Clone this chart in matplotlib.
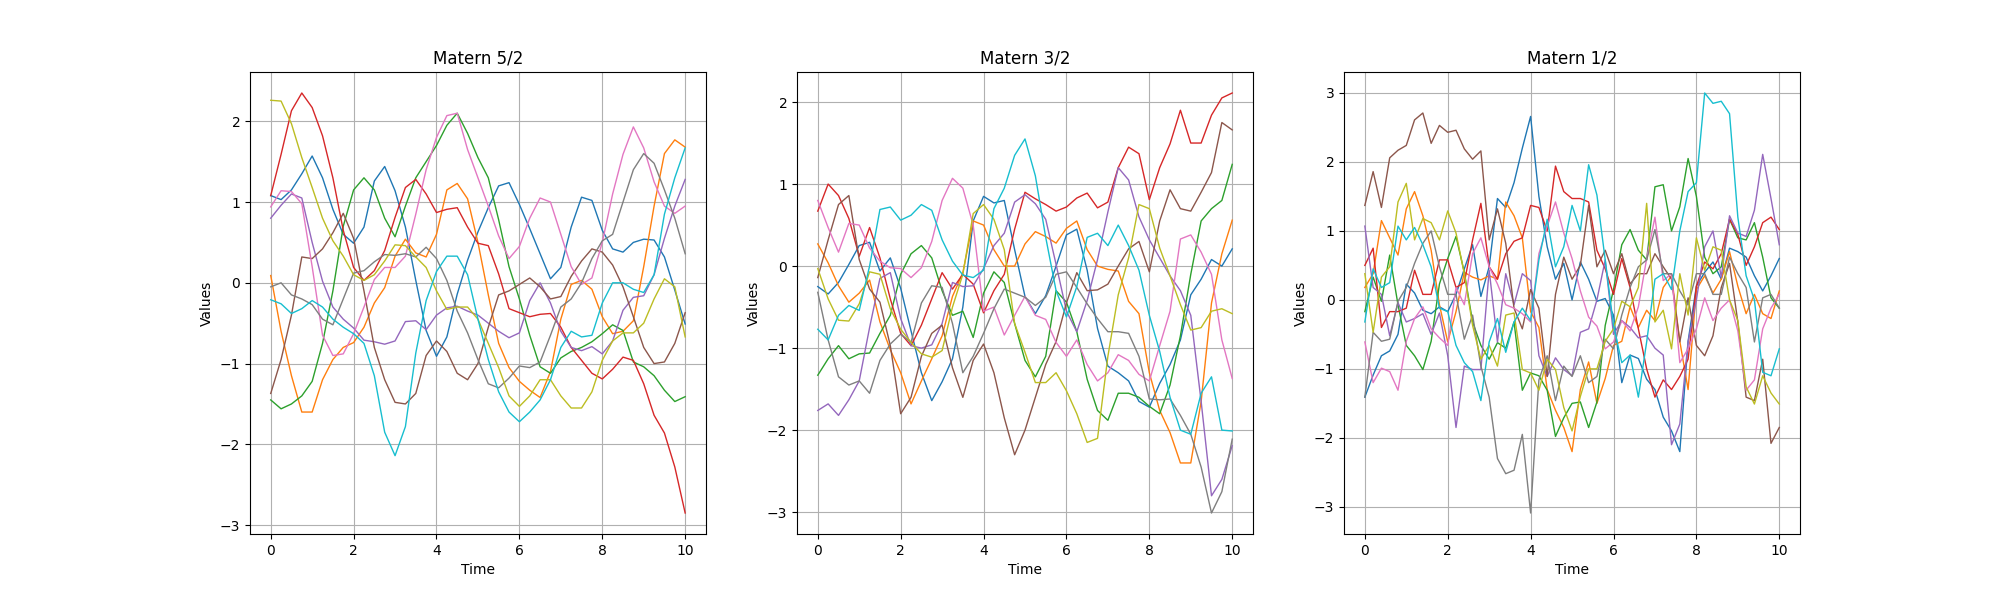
import numpy as np
import matplotlib
matplotlib.use("Agg")
import matplotlib.pyplot as plt

titles = ["Matern 5/2", "Matern 3/2", "Matern 1/2"]
colors = ["tab:blue", "tab:orange", "tab:green", "tab:red", "tab:purple",
          "tab:brown", "tab:pink", "tab:gray", "tab:olive", "tab:cyan"]

# time grids (panel 1 & 2: step 0.25, panel 3: step 0.2)
t52 = np.linspace(0, 10, 41)
t32 = np.linspace(0, 10, 41)
t12 = np.linspace(0, 10, 51)

# ---------------- Matern 5/2 ----------------
m52_blue = [1.08, 1.03, 1.15, 1.35, 1.57, 1.3, 0.91, 0.6, 0.49, 0.69, 1.26, 1.44, 1.14, 0.69, 0.03, -0.59, -0.91, -0.67, -0.14, 0.28, 0.63, 0.93, 1.2, 1.24, 0.97, 0.67, 0.36, 0.05, 0.19, 0.69, 1.06, 1.02, 0.65, 0.42, 0.38, 0.5, 0.54, 0.53, 0.32, -0.09, -0.51]
m52_orange = [0.09, -0.6, -1.15, -1.6, -1.6, -1.2, -0.95, -0.8, -0.74, -0.55, -0.25, -0.06, 0.33, 0.54, 0.37, 0.32, 0.6, 1.15, 1.23, 1.04, 0.5, -0.15, -0.75, -1.05, -1.22, -1.33, -1.42, -1.1, -0.45, -0.02, 0.03, -0.08, -0.42, -0.63, -0.6, -0.47, 0.2, 0.95, 1.6, 1.77, 1.68]
m52_green = [-1.45, -1.56, -1.5, -1.4, -1.22, -0.75, -0.1, 0.7, 1.15, 1.3, 1.15, 0.8, 0.57, 0.95, 1.3, 1.5, 1.7, 1.95, 2.1, 1.85, 1.55, 1.3, 0.78, 0.2, -0.2, -0.65, -1.04, -1.12, -0.93, -0.85, -0.8, -0.73, -0.63, -0.52, -0.59, -0.98, -1.04, -1.15, -1.33, -1.47, -1.41]
m52_red = [1.08, 1.59, 2.13, 2.35, 2.17, 1.82, 1.3, 0.65, 0.19, 0.03, 0.15, 0.4, 0.81, 1.18, 1.28, 1.1, 0.87, 0.91, 0.93, 0.69, 0.49, 0.46, 0.11, -0.32, -0.37, -0.42, -0.39, -0.38, -0.55, -0.8, -0.96, -1.12, -1.19, -1.07, -0.92, -0.96, -1.25, -1.64, -1.86, -2.28, -2.85]
m52_purple = [0.8, 0.96, 1.1, 1.05, 0.5, 0.02, -0.3, -0.45, -0.56, -0.71, -0.73, -0.76, -0.72, -0.48, -0.47, -0.58, -0.4, -0.31, -0.29, -0.35, -0.4, -0.5, -0.6, -0.68, -0.62, -0.22, 0.0, -0.25, -0.6, -0.8, -0.84, -0.79, -0.88, -0.72, -0.34, -0.18, -0.16, 0.1, 0.55, 0.95, 1.28]
m52_brown = [-1.37, -0.95, -0.4, 0.32, 0.3, 0.42, 0.62, 0.86, 0.55, -0.1, -0.8, -1.2, -1.48, -1.5, -1.37, -0.9, -0.72, -0.85, -1.12, -1.2, -1.0, -0.55, -0.15, -0.1, -0.02, 0.06, -0.05, -0.2, -0.17, 0.08, 0.27, 0.42, 0.38, 0.22, -0.05, -0.42, -0.8, -1.0, -0.98, -0.75, -0.37]
m52_pink = [0.94, 1.14, 1.13, 0.98, 0.2, -0.65, -0.9, -0.88, -0.63, -0.3, 0.04, 0.19, 0.19, 0.33, 0.85, 1.4, 1.8, 2.07, 2.1, 1.65, 1.3, 0.95, 0.58, 0.3, 0.45, 0.8, 1.05, 1.0, 0.6, 0.2, -0.02, 0.06, 0.5, 1.1, 1.59, 1.93, 1.67, 1.25, 0.95, 0.86, 0.95]
m52_gray = [-0.05, 0.0, -0.15, -0.2, -0.27, -0.45, -0.52, -0.2, 0.12, 0.15, 0.26, 0.35, 0.34, 0.36, 0.32, 0.44, 0.3, 0.03, -0.35, -0.62, -0.95, -1.25, -1.3, -1.18, -1.03, -1.05, -0.98, -0.65, -0.3, -0.2, 0.0, 0.3, 0.52, 0.6, 1.0, 1.4, 1.6, 1.48, 1.15, 0.8, 0.36]
m52_olive = [2.26, 2.25, 1.97, 1.55, 1.18, 0.8, 0.52, 0.33, 0.1, 0.03, 0.1, 0.27, 0.47, 0.46, 0.32, 0.19, -0.1, -0.33, -0.3, -0.3, -0.45, -0.75, -1.05, -1.4, -1.53, -1.4, -1.2, -1.2, -1.4, -1.55, -1.55, -1.35, -0.96, -0.72, -0.62, -0.62, -0.5, -0.2, 0.05, -0.05, -0.67]
m52_cyan = [-0.21, -0.26, -0.38, -0.32, -0.22, -0.3, -0.45, -0.55, -0.63, -0.75, -1.15, -1.85, -2.14, -1.78, -0.87, -0.22, 0.14, 0.33, 0.33, 0.1, -0.45, -0.95, -1.35, -1.6, -1.72, -1.6, -1.45, -1.2, -0.8, -0.6, -0.67, -0.65, -0.25, 0.0, 0.0, -0.08, -0.12, 0.1, 0.85, 1.3, 1.67]

# ---------------- Matern 3/2 ----------------
m32_blue = [-0.25, -0.34, -0.2, 0.02, 0.25, 0.29, -0.06, 0.1, -0.27, -0.79, -1.3, -1.64, -1.41, -1.13, -0.5, 0.55, 0.85, 0.77, 0.8, 0.2, -0.37, -0.58, -0.36, 0.0, 0.38, 0.45, -0.05, -0.76, -1.22, -1.3, -1.4, -1.65, -1.72, -1.43, -1.2, -0.9, -0.35, -0.16, 0.08, 0.0, 0.21]
m32_orange = [0.27, 0.04, -0.24, -0.44, -0.33, -0.17, -0.68, -1.02, -1.3, -1.68, -1.4, -1.13, -0.85, -0.37, -0.08, 0.55, 0.5, 0.2, 0.0, 0.0, 0.27, 0.42, 0.36, 0.28, 0.46, 0.55, 0.2, 0.0, -0.04, -0.06, -0.43, -0.58, -1.3, -1.76, -2.03, -2.4, -2.4, -1.65, -0.45, 0.15, 0.56]
m32_green = [-1.33, -1.13, -0.97, -1.13, -1.07, -1.06, -0.82, -0.6, -0.1, 0.15, 0.25, 0.1, -0.3, -0.6, -0.55, -0.87, -0.33, -0.07, -0.2, -0.7, -1.15, -1.35, -1.1, -0.3, -0.44, -0.8, -1.38, -1.76, -1.88, -1.55, -1.55, -1.6, -1.71, -1.8, -1.45, -0.85, -0.1, 0.55, 0.7, 0.8, 1.24]
m32_red = [0.67, 1.0, 0.86, 0.58, 0.12, 0.47, 0.1, -0.4, -0.82, -0.97, -0.72, -0.4, -0.08, -0.28, -0.1, -0.22, -0.57, -0.3, -0.1, 0.45, 0.9, 0.82, 0.75, 0.67, 0.72, 0.83, 0.89, 0.71, 0.78, 1.2, 1.45, 1.37, 0.81, 1.2, 1.49, 1.9, 1.5, 1.5, 1.84, 2.05, 2.11]
m32_purple = [-1.76, -1.68, -1.82, -1.63, -1.4, -0.75, -0.15, -0.08, -0.64, -0.97, -1.0, -0.96, -0.7, -0.2, -0.25, -0.24, -0.03, 0.25, 0.4, 0.78, 0.87, 0.76, 0.57, 0.02, -0.55, -0.8, -0.42, 0.08, 0.66, 1.2, 1.05, 0.6, 0.32, 0.1, -0.12, -0.3, -0.6, -1.65, -2.8, -2.6, -2.19]
m32_brown = [-0.14, 0.32, 0.75, 0.86, 0.08, -0.28, -0.44, -0.97, -1.8, -1.6, -1.1, -0.82, -0.72, -1.24, -1.6, -1.15, -0.95, -1.3, -1.85, -2.3, -2.0, -1.6, -1.2, -0.92, -0.45, -0.08, -0.3, -0.29, -0.22, 0.0, 0.21, 0.3, -0.07, 0.55, 0.93, 0.7, 0.67, 0.9, 1.14, 1.75, 1.66]
m32_pink = [0.8, 0.47, 0.17, 0.52, 0.5, 0.22, 0.06, -0.02, -0.03, -0.14, -0.02, 0.3, 0.8, 1.07, 0.95, 0.5, -0.55, -0.5, -0.84, -0.6, -0.37, -0.6, -0.65, -0.93, -1.1, -0.9, -1.2, -1.4, -1.3, -1.08, -1.15, -1.32, -1.4, -0.97, -0.55, 0.33, 0.38, 0.17, -0.1, -0.9, -1.37]
m32_gray = [-0.32, -0.9, -1.35, -1.45, -1.4, -1.55, -1.15, -0.95, -0.83, -0.93, -0.45, -0.24, -0.26, -0.7, -1.3, -1.1, -0.82, -0.52, -0.28, -0.33, -0.38, -0.48, -0.38, -0.1, -0.07, -0.26, -0.46, -0.64, -0.8, -0.8, -0.82, -1.1, -1.62, -1.63, -1.62, -1.82, -2.05, -2.45, -3.01, -2.75, -2.11]
m32_olive = [-0.03, -0.4, -0.66, -0.67, -0.46, -0.07, -0.1, -0.52, -0.77, -0.93, -1.07, -1.11, -1.03, -0.5, -0.1, 0.64, 0.75, 0.57, 0.2, -0.7, -1.05, -1.42, -1.42, -1.3, -1.52, -1.8, -2.15, -2.1, -1.1, -0.35, 0.1, 0.75, 0.7, 0.22, -0.12, -0.47, -0.78, -0.75, -0.55, -0.52, -0.58]
m32_cyan = [-0.77, -0.9, -0.6, -0.48, -0.54, 0.0, 0.69, 0.72, 0.56, 0.62, 0.75, 0.68, 0.32, 0.06, -0.11, -0.14, -0.05, 0.7, 0.95, 1.35, 1.55, 1.1, 0.35, -0.3, -0.62, -0.25, 0.35, 0.4, 0.25, 0.5, 0.25, -0.05, -0.6, -1.04, -1.6, -2.0, -2.05, -1.55, -1.35, -2.0, -2.01]

# ---------------- Matern 1/2 ----------------
m12_blue = [-1.41, -1.09, -0.81, -0.74, -0.5, 0.23, 0.1, -0.15, -0.2, -0.1, -0.17, 0.08, 0.45, 0.8, 0.05, 0.48, 1.47, 1.34, 1.7, 2.2, 2.66, 1.5, 0.77, 0.3, 0.53, 0.0, 0.55, 0.3, -0.02, 0.02, -0.22, -1.2, -0.8, -0.85, -1.15, -1.3, -1.7, -1.9, -2.2, -0.6, 0.2, 0.4, 0.55, 0.3, 0.75, 0.7, 0.62, 0.35, 0.13, 0.35, 0.6]
m12_orange = [0.18, 0.38, 1.15, 0.9, 0.65, 1.32, 1.57, 1.22, 0.72, -0.07, -0.61, -0.17, 0.4, 0.33, 0.29, 0.35, 0.3, 1.42, 1.22, 0.9, -0.17, -0.4, -1.3, -1.6, -1.85, -2.2, -1.3, -0.9, -1.5, -1.14, -0.66, -0.6, -0.1, -0.4, -0.15, -0.3, 0.18, 0.35, -0.6, -1.3, 0.15, 0.35, 0.1, 0.3, 0.7, 0.2, -0.2, 0.08, -0.2, -0.27, 0.13]
m12_green = [-0.17, 0.33, -0.02, 0.65, -0.07, -0.66, -0.81, -1.01, -0.6, 0.23, 0.6, 0.92, 0.4, -0.32, -0.66, -0.86, -0.62, -0.7, -0.32, -1.31, -1.06, -1.1, -1.31, -1.98, -1.71, -1.5, -1.48, -1.85, -1.48, -0.37, 0.15, 0.8, 1.02, 0.72, 0.58, 1.64, 1.67, 1.0, 1.35, 2.05, 1.5, 0.62, 0.38, 0.48, 1.17, 0.9, 0.87, 1.12, 0.62, 0.03, -0.12]
m12_red = [0.5, 0.75, -0.4, -0.17, -0.17, -0.12, 0.43, 0.08, 0.08, 0.58, 0.58, 0.18, 0.25, 0.87, 1.4, 0.48, 0.3, 0.67, 0.85, 0.9, 1.37, 1.34, 1.0, 1.94, 1.57, 1.47, 1.47, 1.42, 0.72, 0.45, 0.08, 0.6, 0.18, -0.42, -1.0, -1.41, -1.16, -1.3, -1.11, -0.86, 0.2, 0.55, 0.45, 0.67, 1.17, 0.95, 0.5, 0.77, 1.12, 1.2, 1.02]
m12_purple = [1.07, 0.18, 0.08, -0.52, -0.04, -0.32, -0.27, -0.2, -0.5, -0.19, -0.81, -1.85, -0.96, -1.01, -1.01, 0.43, -0.61, 0.38, -0.07, 0.38, 0.28, -0.81, -1.11, -0.84, -1.01, -1.1, -0.47, -0.42, 0.0, 0.58, -0.5, -0.3, -0.4, -0.55, -0.52, -0.7, -0.8, -2.1, -1.8, -0.61, 0.0, 0.77, 1.0, 0.33, 1.22, 0.97, 0.92, 1.3, 2.11, 1.47, 0.8]
m12_brown = [1.37, 1.86, 1.34, 2.06, 2.17, 2.24, 2.61, 2.71, 2.27, 2.53, 2.43, 2.46, 2.19, 2.04, 2.16, 0.87, 1.32, 0.82, -0.12, -0.42, 0.15, -0.12, -1.11, 0.08, 0.62, 0.3, 0.5, 1.37, 0.48, 0.72, 0.38, 0.67, 0.23, 0.38, 0.38, 0.67, 0.48, 0.3, -0.61, 0.03, -0.66, -0.81, -0.52, 0.18, 0.53, -0.32, -1.41, -1.46, -0.86, -2.08, -1.85]
m12_pink = [-0.61, -1.2, -0.99, -1.04, -1.31, -0.6, -0.27, -0.1, -0.42, -0.55, -0.66, 0.18, -0.07, 0.67, 0.9, 0.48, 0.23, -0.07, -0.12, -0.2, -0.32, 0.67, 1.07, 1.42, 0.97, 0.6, 0.13, -0.25, -0.38, -0.71, -0.61, -0.3, -0.45, -0.1, 0.6, 1.2, 0.28, 0.38, -0.91, -0.71, -0.42, 0.03, -0.3, -0.12, 0.0, -0.45, -1.31, -1.16, -0.42, -0.12, 0.08]
m12_gray = [-1.41, -0.47, -0.6, -0.57, -0.02, 0.18, 0.53, 0.82, 1.0, 0.48, 0.08, 0.08, -0.57, -0.22, -0.96, -1.41, -2.3, -2.52, -2.47, -1.95, -3.09, -1.16, -0.81, -1.46, -0.96, -1.11, -0.81, -1.2, -1.11, -0.57, -0.71, -0.22, 0.18, 0.48, 0.58, 1.02, 0.38, 0.38, 0.13, -0.07, 0.38, 0.38, 0.08, 0.08, 0.62, 0.38, 0.18, -0.61, 0.03, 0.08, -0.12]
m12_olive = [0.38, -0.47, 0.33, 0.48, 1.42, 1.69, 0.87, 1.18, 1.12, 0.87, 1.29, 0.97, 0.38, -0.37, -0.86, -0.66, -0.96, -0.22, -0.19, -1.01, -1.06, -1.31, -0.86, -1.01, -1.56, -1.9, -1.4, -1.0, -1.0, -0.6, -0.42, -0.02, -0.1, 0.18, 1.4, -0.32, -0.15, -0.71, 0.38, -0.22, 0.9, 0.43, 0.77, 0.72, 0.0, -0.3, -1.26, -1.51, -1.1, -1.35, -1.51]
m12_cyan = [-0.32, 0.45, 0.18, 0.25, 1.07, 0.87, 1.05, 0.8, 0.48, -0.12, -0.17, -0.66, -0.91, -1.04, -1.46, -0.61, -0.27, -0.76, -0.32, -0.12, -0.3, 0.58, 1.17, 0.48, 0.77, 1.37, 1.0, 1.96, 1.52, 0.58, -0.37, -0.91, -0.8, -1.41, -0.61, 0.3, 0.38, 0.15, 1.0, 1.57, 1.7, 3.0, 2.85, 2.88, 2.7, 1.2, 0.35, 0.0, -1.05, -1.1, -0.71]

panels = [
    (t52, [m52_blue, m52_orange, m52_green, m52_red, m52_purple,
           m52_brown, m52_pink, m52_gray, m52_olive, m52_cyan]),
    (t32, [m32_blue, m32_orange, m32_green, m32_red, m32_purple,
           m32_brown, m32_pink, m32_gray, m32_olive, m32_cyan]),
    (t12, [m12_blue, m12_orange, m12_green, m12_red, m12_purple,
           m12_brown, m12_pink, m12_gray, m12_olive, m12_cyan]),
]

fig, axes = plt.subplots(1, 3, figsize=(20, 6), dpi=100)
for ax, title, (t, series) in zip(axes, titles, panels):
    for ys, c in zip(series, colors):
        ax.plot(t, ys, color=c, linewidth=1.0)
    ax.set_title(title)
    ax.set_xlabel("Time")
    ax.set_ylabel("Values")
    ax.grid(True)

fig.savefig("out.png", dpi=100)
